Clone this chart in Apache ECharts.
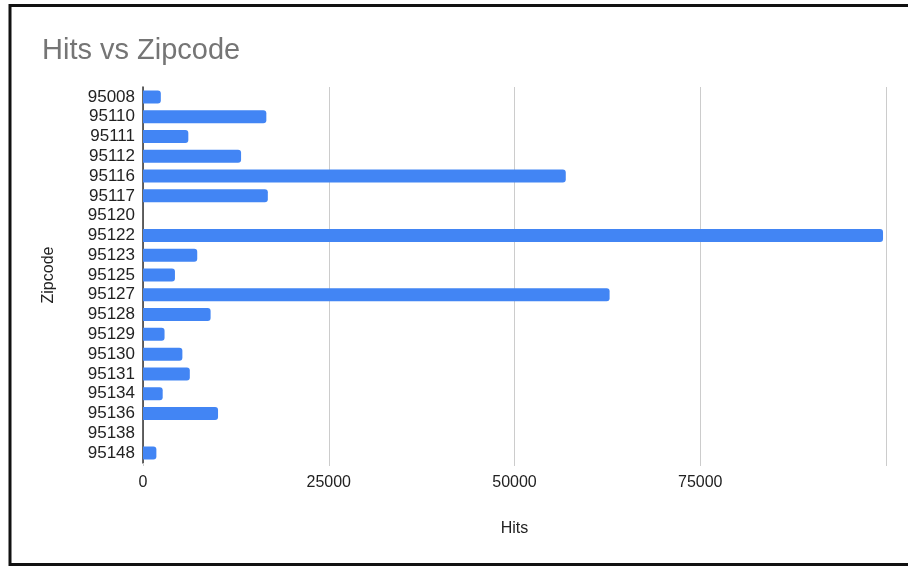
<!DOCTYPE html>
<html>
<head>
<meta charset="utf-8">
<script src="https://cdn.jsdelivr.net/npm/echarts@6/dist/echarts.min.js"></script>
<style>
html,body{margin:0;padding:0;background:#fff;}
#chart{width:908px;height:566px;}
</style>
</head>
<body>
<div id="chart"></div>
<script>
const zipcodes = ['95008','95110','95111','95112','95116','95117','95120','95122','95123','95125','95127','95128','95129','95130','95131','95134','95136','95138','95148'];
const hits = [2400, 16600, 6100, 13200, 56900, 16800, 0, 99600, 7300, 4300, 62800, 9100, 2900, 5300, 6300, 2650, 10100, 0, 1800];
const xTicks = [0, 25000, 50000, 75000];

const chart = echarts.init(document.getElementById('chart'), null, {renderer: 'canvas'});
const font = 'Liberation Sans, Arial, sans-serif';
chart.setOption({
  animation: false,
  backgroundColor: '#fff',
  title: {
    text: 'Hits vs Zipcode',
    left: 37, top: 31,
    textStyle: {fontFamily: font, fontSize: 29, fontWeight: 'normal', color: '#757575'}
  },
  graphic: [{
    type: 'rect', silent: true, z: 100,
    shape: {x: 10, y: 5.5, width: 1000, height: 559},
    style: {fill: 'none', stroke: '#111', lineWidth: 3}
  }],
  grid: {left: 143, right: 22, top: 87, bottom: 103, containLabel: false},
  xAxis: {
    type: 'value', min: 0, max: 100000, interval: 25000,
    name: 'Hits', nameLocation: 'middle', nameGap: 58,
    nameTextStyle: {fontFamily: font, fontSize: 16, color: '#222'},
    axisLine: {show: false},
    axisTick: {show: true, length: 3, lineStyle: {color: '#ccc'}},
    splitLine: {show: true, lineStyle: {color: '#cccccc', width: 1}},
    axisLabel: {
      fontFamily: font, fontSize: 16, color: '#222', margin: 12,
      formatter: v => xTicks.includes(v) ? String(v) : ''
    }
  },
  yAxis: {
    type: 'category', data: zipcodes, inverse: true,
    name: 'Zipcode', nameLocation: 'middle', nameGap: 86, nameRotate: 90,
    nameTextStyle: {fontFamily: font, fontSize: 16, color: '#222'},
    axisLine: {show: true, lineStyle: {color: '#333', width: 1.5}},
    axisTick: {show: false},
    axisLabel: {fontFamily: font, fontSize: 17, color: '#222', margin: 8, interval: 0}
  },
  series: [{
    type: 'bar', data: hits, barWidth: 13,
    itemStyle: {color: '#4285f4', borderRadius: [0, 3, 3, 0]}
  }]
});
</script>
</body>
</html>
